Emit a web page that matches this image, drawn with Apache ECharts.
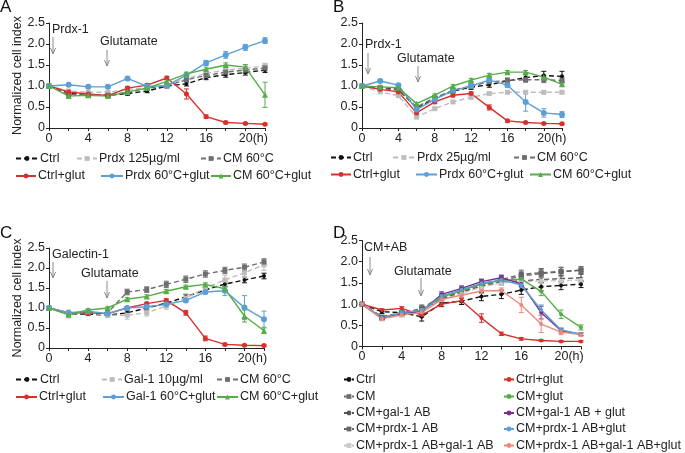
<!DOCTYPE html>
<html>
<head>
<meta charset="utf-8">
<script src="https://cdn.jsdelivr.net/npm/echarts@6/dist/echarts.min.js"></script>
<style>
  html, body { margin: 0; padding: 0; background: #fff; }
  #chart { width: 685px; height: 453px; }
</style>
</head>
<body>
<div id="chart"></div>
<script>
// time points (h)
var hours = [0, 2, 4, 6, 8, 10, 12, 14, 16, 18, 20, 22];

// ---- panel A : Prdx-1 ----
var aCtrl      = [1.0, 0.82, 0.80, 0.78, 0.82, 0.88, 1.00, 1.05, 1.20, 1.27, 1.32, 1.38];
var aPrdx      = [1.0, 0.88, 0.85, 0.85, 0.92, 0.95, 1.02, 1.18, 1.30, 1.38, 1.42, 1.48];
var aCM        = [1.0, 0.80, 0.78, 0.78, 0.85, 0.95, 1.00, 1.15, 1.25, 1.33, 1.38, 1.43];
var aCtrlGlut  = [1.0, 0.86, 0.81, 0.77, 0.95, 1.02, 1.19, 0.81, 0.27, 0.13, 0.11, 0.09];
var aPrdxGlut  = [1.0, 1.03, 0.98, 0.98, 1.18, 0.99, 1.01, 1.26, 1.55, 1.74, 1.92, 2.08];
var aCMGlut    = [1.0, 0.76, 0.78, 0.76, 0.86, 0.95, 1.11, 1.29, 1.40, 1.50, 1.45, 0.79];
var aCtrlErr     = [0, 0.03, 0.03, 0.03, 0.04, 0.04, 0.04, 0.05, 0.05, 0.06, 0.06, 0.06];
var aPrdxErr     = [0, 0.03, 0.03, 0.03, 0.03, 0.04, 0.04, 0.05, 0.05, 0.05, 0.06, 0.06];
var aCMErr       = [0, 0.03, 0.03, 0.03, 0.04, 0.04, 0.04, 0.05, 0.06, 0.07, 0.08, 0.07];
var aCtrlGlutErr = [0, 0.03, 0.03, 0.03, 0.04, 0.04, 0.04, 0.12, 0.04, 0.03, 0.02, 0.02];
var aPrdxGlutErr = [0, 0.03, 0.03, 0.03, 0.04, 0.04, 0.04, 0.04, 0.06, 0.08, 0.07, 0.07];
var aCMGlutErr   = [0, 0.03, 0.03, 0.03, 0.03, 0.03, 0.04, 0.04, 0.05, 0.05, 0.06, 0.30];

// ---- panel B : Prdx-1 25 ----
var bCtrl      = [1.0, 0.95, 0.92, 0.48, 0.70, 0.88, 0.97, 1.03, 1.12, 1.20, 1.25, 1.23];
var bPrdx      = [1.0, 0.86, 0.77, 0.26, 0.46, 0.62, 0.73, 0.82, 0.85, 0.85, 0.85, 0.85];
var bCM        = [1.0, 0.95, 0.90, 0.50, 0.72, 0.90, 1.00, 1.10, 1.13, 1.15, 1.15, 1.13];
var bCtrlGlut  = [1.0, 0.92, 0.86, 0.36, 0.62, 0.78, 0.82, 0.49, 0.17, 0.13, 0.11, 0.10];
var bPrdxGlut  = [1.0, 1.12, 1.02, 0.44, 0.68, 0.89, 1.00, 1.14, 1.02, 0.62, 0.36, 0.32];
var bCMGlut    = [1.0, 0.98, 0.96, 0.58, 0.78, 1.00, 1.14, 1.26, 1.33, 1.33, 1.21, 1.04];
var bCtrlErr     = [0, 0.03, 0.03, 0.03, 0.04, 0.04, 0.05, 0.06, 0.06, 0.07, 0.10, 0.12];
var bPrdxErr     = [0, 0.03, 0.03, 0.03, 0.03, 0.03, 0.03, 0.03, 0.03, 0.03, 0.03, 0.03];
var bCMErr       = [0, 0.03, 0.03, 0.03, 0.04, 0.04, 0.05, 0.05, 0.06, 0.06, 0.07, 0.08];
var bCtrlGlutErr = [0, 0.03, 0.03, 0.03, 0.04, 0.04, 0.04, 0.06, 0.03, 0.02, 0.02, 0.02];
var bPrdxGlutErr = [0, 0.03, 0.03, 0.03, 0.04, 0.04, 0.04, 0.04, 0.05, 0.22, 0.10, 0.07];
var bCMGlutErr   = [0, 0.03, 0.03, 0.03, 0.03, 0.03, 0.04, 0.04, 0.04, 0.04, 0.05, 0.05];

// ---- panel C : Galectin-1 ----
var cCtrl      = [1.0, 0.85, 0.85, 0.82, 0.88, 1.00, 1.12, 1.28, 1.45, 1.60, 1.70, 1.80];
var cGal       = [1.0, 0.85, 0.88, 0.82, 0.82, 0.88, 1.05, 1.25, 1.50, 1.70, 1.88, 2.08];
var cCM        = [1.0, 0.85, 0.88, 0.88, 1.40, 1.46, 1.59, 1.72, 1.85, 1.94, 2.02, 2.15];
var cCtrlGlut  = [1.0, 0.88, 0.88, 0.86, 1.00, 1.11, 1.19, 0.88, 0.24, 0.09, 0.07, 0.06];
var cGalGlut   = [1.0, 0.88, 0.92, 0.86, 1.00, 1.03, 1.09, 1.19, 1.40, 1.43, 1.01, 0.72];
var cCMGlut    = [1.0, 0.83, 0.95, 1.00, 1.22, 1.29, 1.42, 1.53, 1.59, 1.48, 0.80, 0.43];
var cCtrlErr     = [0, 0.04, 0.04, 0.04, 0.05, 0.05, 0.05, 0.06, 0.06, 0.07, 0.07, 0.07];
var cGalErr      = [0, 0.10, 0.06, 0.06, 0.10, 0.08, 0.08, 0.10, 0.10, 0.12, 0.12, 0.14];
var cCMErr       = [0, 0.05, 0.05, 0.05, 0.07, 0.07, 0.08, 0.08, 0.08, 0.08, 0.08, 0.08];
var cCtrlGlutErr = [0, 0.03, 0.03, 0.03, 0.03, 0.03, 0.04, 0.06, 0.06, 0.03, 0.02, 0.02];
var cGalGlutErr  = [0, 0.03, 0.03, 0.03, 0.03, 0.03, 0.04, 0.04, 0.05, 0.12, 0.30, 0.20];
var cCMGlutErr   = [0, 0.03, 0.03, 0.03, 0.04, 0.04, 0.04, 0.04, 0.04, 0.05, 0.15, 0.07];

// ---- panel D : CM + antibodies ----
var dCtrl          = [1.0, 0.82, 0.80, 0.70, 1.02, 1.07, 1.18, 1.23, 1.33, 1.41, 1.44, 1.47];
var dCM            = [1.0, 0.68, 0.78, 0.88, 1.15, 1.30, 1.45, 1.55, 1.66, 1.72, 1.76, 1.80];
var dCMGal         = [1.0, 0.70, 0.80, 0.85, 1.12, 1.28, 1.42, 1.52, 1.55, 1.58, 1.60, 1.62];
var dCMPrdx        = [1.0, 0.68, 0.78, 0.90, 1.18, 1.33, 1.48, 1.58, 1.70, 1.74, 1.77, 1.80];
var dCMPrdxGal     = [1.0, 0.65, 0.75, 0.85, 1.10, 1.25, 1.40, 1.50, 1.52, 1.55, 1.55, 1.57];
var dCtrlGlut      = [1.0, 0.86, 0.90, 0.74, 1.00, 1.08, 0.67, 0.30, 0.18, 0.14, 0.12, 0.12];
var dCMGlut        = [1.0, 0.67, 0.78, 0.85, 1.16, 1.32, 1.47, 1.56, 1.59, 1.30, 0.76, 0.45];
var dCMGalGlut     = [1.0, 0.67, 0.78, 0.83, 1.23, 1.37, 1.53, 1.62, 1.48, 0.80, 0.37, 0.29];
var dCMPrdxGlut    = [1.0, 0.68, 0.80, 0.85, 1.19, 1.34, 1.49, 1.57, 1.45, 0.86, 0.39, 0.29];
var dCMPrdxGalGlut = [1.0, 0.65, 0.75, 0.80, 1.11, 1.21, 1.31, 1.32, 0.98, 0.53, 0.34, 0.28];
var dCtrlErr          = [0, 0.04, 0.05, 0.10, 0.08, 0.08, 0.10, 0.10, 0.10, 0.10, 0.10, 0.08];
var dCMErr            = [0, 0.04, 0.05, 0.08, 0.08, 0.08, 0.10, 0.10, 0.10, 0.10, 0.10, 0.08];
var dCMGalErr         = [0, 0.04, 0.05, 0.08, 0.08, 0.08, 0.08, 0.08, 0.08, 0.08, 0.08, 0.08];
var dCMPrdxErr        = [0, 0.04, 0.05, 0.08, 0.08, 0.08, 0.10, 0.10, 0.10, 0.10, 0.10, 0.08];
var dCMPrdxGalErr     = [0, 0.04, 0.05, 0.06, 0.06, 0.06, 0.06, 0.06, 0.06, 0.06, 0.06, 0.06];
var dCtrlGlutErr      = [0, 0.03, 0.04, 0.05, 0.05, 0.05, 0.10, 0.04, 0.03, 0.02, 0.02, 0.02];
var dCMGlutErr        = [0, 0.04, 0.05, 0.05, 0.06, 0.06, 0.06, 0.06, 0.06, 0.10, 0.10, 0.06];
var dCMGalGlutErr     = [0, 0.04, 0.05, 0.05, 0.06, 0.06, 0.06, 0.06, 0.06, 0.15, 0.05, 0.03];
var dCMPrdxGlutErr    = [0, 0.04, 0.05, 0.05, 0.06, 0.06, 0.06, 0.06, 0.06, 0.12, 0.05, 0.03];
var dCMPrdxGalGlutErr = [0, 0.04, 0.05, 0.05, 0.06, 0.06, 0.06, 0.06, 0.18, 0.20, 0.06, 0.04];

var xLabels = { 0: '0', 4: '4', 8: '8', 12: '12', 16: '16', 20: '20(h)' };

var RED = '#d7302e', BLUE = '#5b9fd6', GREEN = '#55ad47', BLACK = '#111',
    DGRAY = '#6f6f6f', LGRAY = '#bdbdbd', PURPLE = '#7b2e8e', SALMON = '#e8897c';
var FONT = 'Liberation Sans, Arial, sans-serif';

var chart = echarts.init(document.getElementById('chart'));

var grids = [
  { left: 49, top: 23, width: 216, height: 105 },
  { left: 362, top: 23, width: 200, height: 105 },
  { left: 49, top: 248, width: 215, height: 100 },
  { left: 362, top: 240.5, width: 219, height: 106 }
];

function xAxisFor(i) {
  return {
    gridIndex: i, type: 'value', min: 0, max: 22, interval: 2,
    axisLine: { lineStyle: { color: '#222', width: 1 } },
    axisTick: { length: 3, lineStyle: { color: '#222' } },
    splitLine: { show: false },
    axisLabel: {
      color: '#222', fontSize: 12.5, fontFamily: FONT, margin: 4, showMaxLabel: true,
      formatter: function (v) {
        if (v === 20) return '{h|20(h)}';
        return xLabels[v] !== undefined ? xLabels[v] : '';
      },
      rich: { h: { fontSize: 12.5, fontFamily: FONT, color: '#222', padding: [0, 0, 0, 16] } }
    }
  };
}
function yAxisFor(i, withName) {
  return {
    gridIndex: i, type: 'value', min: 0, max: 2.5, interval: 0.5,
    name: withName ? 'Normalized cell index' : '',
    nameLocation: 'middle', nameGap: 25,
    nameTextStyle: { color: '#222', fontSize: 12.5, fontFamily: FONT },
    axisLine: { show: true, lineStyle: { color: '#222', width: 1 } },
    axisTick: { show: true, length: 3, lineStyle: { color: '#222' } },
    splitLine: { show: false },
    axisLabel: {
      color: '#222', fontSize: 12.5, fontFamily: FONT, margin: 4,
      formatter: function (v) { return v === 0 ? '0' : v.toFixed(1); }
    }
  };
}

var series = [];
function line(name, g, vals, color, opt) {
  opt = opt || {};
  series.push({
    name: name, type: 'line', xAxisIndex: g, yAxisIndex: g,
    data: hours.map(function (h, i) { return [h, vals[i]]; }),
    symbol: opt.symbol || 'circle', symbolSize: opt.size || 5,
    itemStyle: { color: color },
    lineStyle: { color: color, width: opt.width || 1.4, type: opt.dash ? [5, 3] : 'solid' },
    z: opt.z || 3, animation: false
  });
}
function errs(g, vals, err, color) {
  series.push({
    type: 'custom', xAxisIndex: g, yAxisIndex: g, silent: true, z: 2, animation: false,
    data: hours.map(function (h, i) { return [h, vals[i] - err[i], vals[i] + err[i]]; }),
    renderItem: function (params, api) {
      if (api.value(2) - api.value(1) <= 0) return null;
      var lo = api.coord([api.value(0), api.value(1)]);
      var hi = api.coord([api.value(0), api.value(2)]);
      var w = 2.5, st = { stroke: color, lineWidth: 1 };
      return { type: 'group', children: [
        { type: 'line', shape: { x1: lo[0], y1: lo[1], x2: hi[0], y2: hi[1] }, style: st },
        { type: 'line', shape: { x1: lo[0] - w, y1: lo[1], x2: lo[0] + w, y2: lo[1] }, style: st },
        { type: 'line', shape: { x1: hi[0] - w, y1: hi[1], x2: hi[0] + w, y2: hi[1] }, style: st }
      ] };
    }
  });
}
function add(name, g, vals, err, color, opt) {
  errs(g, vals, err, color);
  line(name, g, vals, color, opt);
}

// A
add('A|Ctrl', 0, aCtrl, aCtrlErr, BLACK, { dash: true, size: 4 });
add('A|Prdx 125µg/ml', 0, aPrdx, aPrdxErr, LGRAY, { dash: true, symbol: 'rect', size: 5 });
add('A|CM 60°C', 0, aCM, aCMErr, DGRAY, { dash: true, symbol: 'rect', size: 5 });
add('A|Ctrl+glut', 0, aCtrlGlut, aCtrlGlutErr, RED, { size: 5 });
add('A|Prdx 60°C+glut', 0, aPrdxGlut, aPrdxGlutErr, BLUE, { size: 6 });
add('A|CM 60°C+glut', 0, aCMGlut, aCMGlutErr, GREEN, { symbol: 'triangle', size: 6 });
// B
add('B|Ctrl', 1, bCtrl, bCtrlErr, BLACK, { dash: true, size: 4 });
add('B|Prdx 25µg/ml', 1, bPrdx, bPrdxErr, LGRAY, { dash: true, symbol: 'rect', size: 5 });
add('B|CM 60°C', 1, bCM, bCMErr, DGRAY, { dash: true, symbol: 'rect', size: 5 });
add('B|Ctrl+glut', 1, bCtrlGlut, bCtrlGlutErr, RED, { size: 5 });
add('B|Prdx 60°C+glut', 1, bPrdxGlut, bPrdxGlutErr, BLUE, { size: 6 });
add('B|CM 60°C+glut', 1, bCMGlut, bCMGlutErr, GREEN, { symbol: 'triangle', size: 6 });
// C
add('C|Ctrl', 2, cCtrl, cCtrlErr, BLACK, { dash: true, size: 4 });
add('C|Gal-1 10µg/ml', 2, cGal, cGalErr, LGRAY, { dash: true, symbol: 'rect', size: 5 });
add('C|CM 60°C', 2, cCM, cCMErr, DGRAY, { dash: true, symbol: 'rect', size: 5 });
add('C|Ctrl+glut', 2, cCtrlGlut, cCtrlGlutErr, RED, { size: 5 });
add('C|Gal-1 60°C+glut', 2, cGalGlut, cGalGlutErr, BLUE, { size: 6 });
add('C|CM 60°C+glut', 2, cCMGlut, cCMGlutErr, GREEN, { symbol: 'triangle', size: 6 });
// D
add('D|Ctrl', 3, dCtrl, dCtrlErr, BLACK, { dash: true, size: 4 });
add('D|CM', 3, dCM, dCMErr, DGRAY, { dash: true, symbol: 'rect', size: 5 });
add('D|CM+gal-1 AB', 3, dCMGal, dCMGalErr, '#555', { dash: true, size: 3 });
add('D|CM+prdx-1 AB', 3, dCMPrdx, dCMPrdxErr, '#666', { dash: true, symbol: 'rect', size: 5 });
add('D|CM+prdx-1 AB+gal-1 AB', 3, dCMPrdxGal, dCMPrdxGalErr, '#c8c8c8', { dash: true, symbol: 'rect', size: 4 });
add('D|Ctrl+glut', 3, dCtrlGlut, dCtrlGlutErr, RED, { size: 4 });
add('D|CM+glut', 3, dCMGlut, dCMGlutErr, GREEN, { size: 4 });
add('D|CM+gal-1 AB + glut', 3, dCMGalGlut, dCMGalGlutErr, PURPLE, { size: 4 });
add('D|CM+prdx-1 AB+glut', 3, dCMPrdxGlut, dCMPrdxGlutErr, BLUE, { size: 4 });
add('D|CM+prdx-1 AB+gal-1 AB+glut', 3, dCMPrdxGalGlut, dCMPrdxGalGlutErr, SALMON, { size: 4 });

// legend items: [name, left, centerY, iconWidth]
var legendItems = [
  ['A|Ctrl', 15, 159, 22], ['A|Prdx 125µg/ml', 76, 159, 20], ['A|CM 60°C', 200, 159, 20],
  ['A|Ctrl+glut', 15, 176.5, 20], ['A|Prdx 60°C+glut', 100, 176.5, 22], ['A|CM 60°C+glut', 210, 176.5, 20],
  ['B|Ctrl', 330, 158, 20], ['B|Prdx 25µg/ml', 392, 158, 22], ['B|CM 60°C', 513, 158, 21],
  ['B|Ctrl+glut', 330, 175, 20], ['B|Prdx 60°C+glut', 415, 175, 21], ['B|CM 60°C+glut', 529, 175, 21],
  ['C|Ctrl', 15, 380, 22], ['C|Gal-1 10µg/ml', 101, 380, 20], ['C|CM 60°C', 216, 380, 21],
  ['C|Ctrl+glut', 15, 397.5, 21], ['C|Gal-1 60°C+glut', 102, 397.5, 21], ['C|CM 60°C+glut', 216, 397.5, 21],
  ['D|Ctrl', 343, 380, 10], ['D|CM', 343, 397, 10], ['D|CM+gal-1 AB', 343, 413.5, 10],
  ['D|CM+prdx-1 AB', 343, 429.5, 10], ['D|CM+prdx-1 AB+gal-1 AB', 343, 446, 10],
  ['D|Ctrl+glut', 503, 380, 10], ['D|CM+glut', 503, 397, 10], ['D|CM+gal-1 AB + glut', 503, 413.5, 10],
  ['D|CM+prdx-1 AB+glut', 503, 429.5, 10], ['D|CM+prdx-1 AB+gal-1 AB+glut', 503, 446, 10]
];
var legends = legendItems.map(function (it) {
  return {
    data: [it[0]], left: it[1], top: it[2] - 7, padding: 0,
    itemWidth: it[3], itemHeight: 6, itemGap: 0, selectedMode: false,
    textStyle: { color: '#222', fontSize: 12.5, fontFamily: FONT, padding: [0, 0, 0, -3] },
    formatter: function (n) { return n.split('|')[1]; }
  };
});

// annotations: [text, textLeft, textCenterY, arrowX, arrowTop, arrowBottom]
var notes = [
  ['Prdx-1', 52, 30.5, 53, 37, 54],
  ['Glutamate', 100, 42.5, 107, 50, 66],
  ['Prdx-1', 365, 45.5, 368, 53, 74],
  ['Glutamate', 397, 59.5, 418, 66, 82],
  ['Galectin-1', 52, 255, 53, 262, 278],
  ['Glutamate', 81, 274.5, 107, 281, 298],
  ['CM+AB', 364, 248, 370, 257, 275],
  ['Glutamate', 394, 272.5, 421, 278, 296]
];
var graphic = [];
notes.forEach(function (n) {
  graphic.push({ type: 'text', left: n[1], top: n[2] - 7,
    style: { text: n[0], fill: '#222', font: '12.5px ' + FONT } });
  graphic.push({ type: 'line', shape: { x1: n[3], y1: n[4], x2: n[3], y2: n[5] },
    style: { stroke: '#8a8a8a', lineWidth: 1 } });
  graphic.push({ type: 'polyline', shape: { points: [[n[3] - 2.5, n[5] - 6], [n[3], n[5]], [n[3] + 2.5, n[5] - 6]] },
    style: { stroke: '#8a8a8a', lineWidth: 1, fill: null } });
});
// panel letters
[['A', 0, -1], ['B', 333, -1], ['C', 0, 225], ['D', 333, 225]].forEach(function (p) {
  graphic.push({ type: 'text', left: p[1], top: p[2],
    style: { text: p[0], fill: '#111', font: '17px ' + FONT } });
});

chart.setOption({
  backgroundColor: '#fff',
  animation: false,
  grid: grids,
  xAxis: [xAxisFor(0), xAxisFor(1), xAxisFor(2), xAxisFor(3)],
  yAxis: [yAxisFor(0, true), yAxisFor(1, false), yAxisFor(2, true), yAxisFor(3, false)],
  legend: legends,
  series: series,
  graphic: graphic
});
</script>
</body>
</html>
